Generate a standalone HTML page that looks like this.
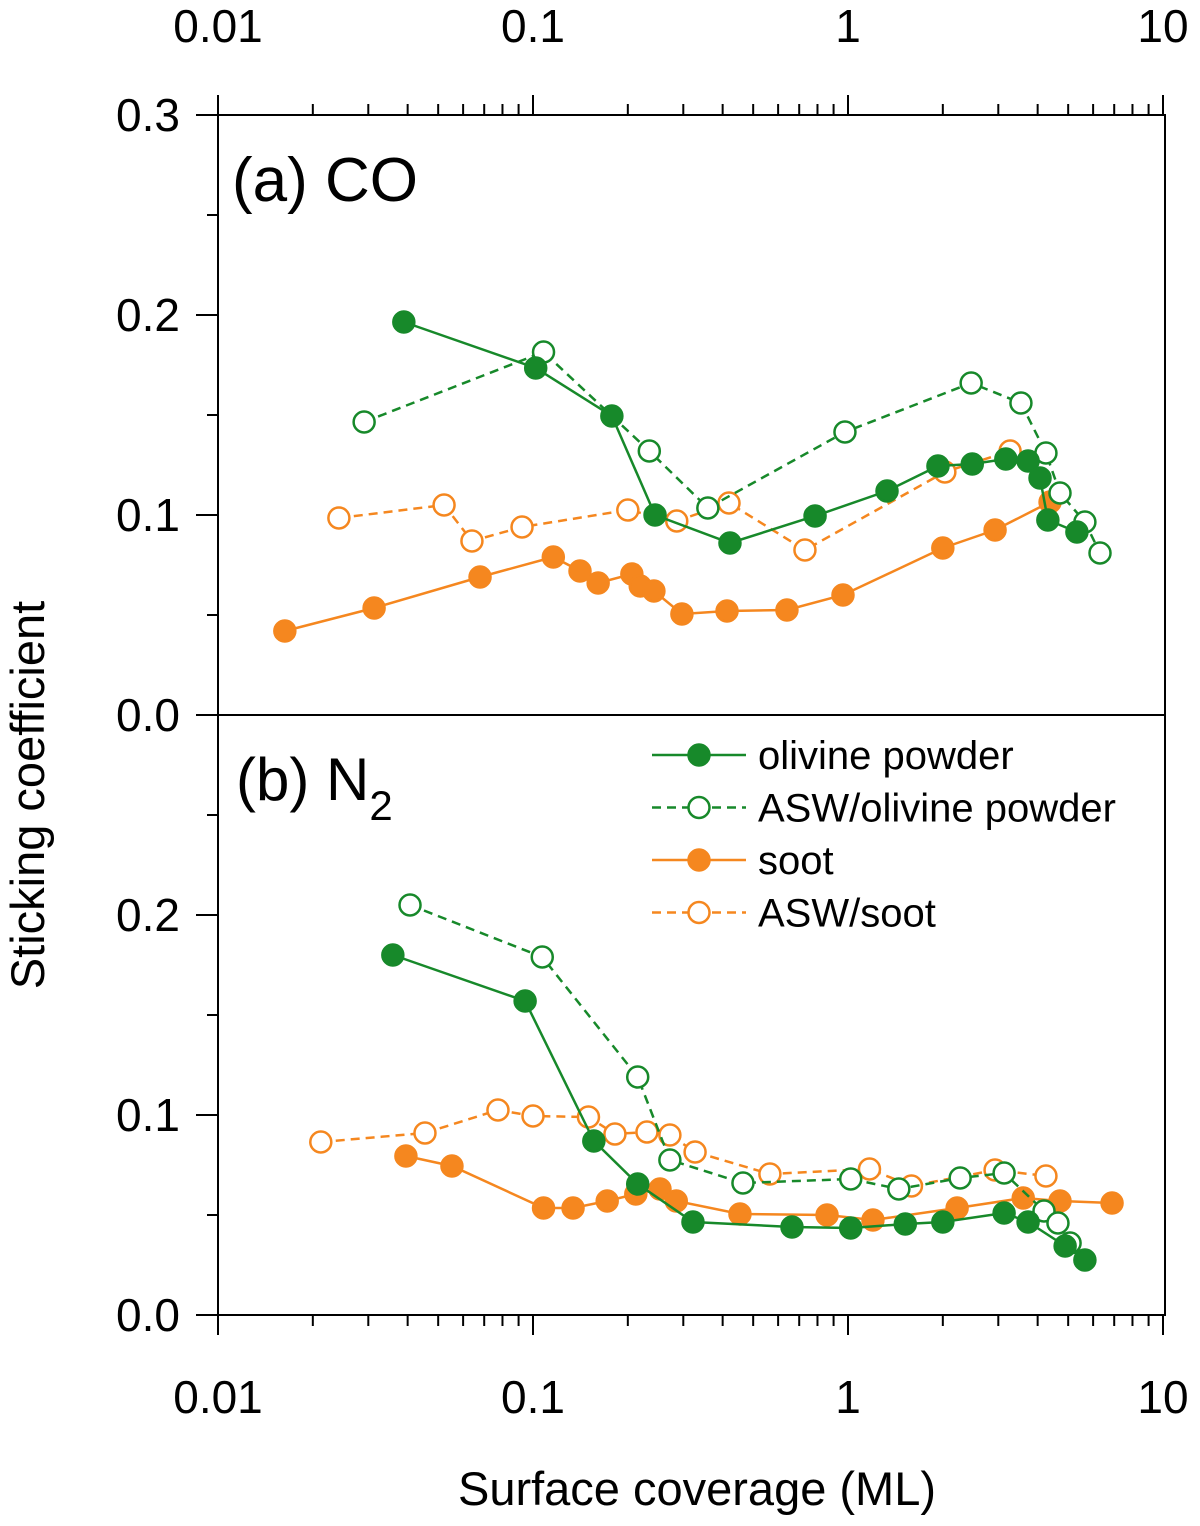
<!DOCTYPE html>
<html><head><meta charset="utf-8"><style>
body{margin:0;background:#fff}
svg text{font-family:"Liberation Sans",sans-serif;fill:#000}
</style></head><body>
<svg id="chart" width="1200" height="1521">
<g id="axes"></g><g id="marks"></g>
<text x="232" y="201" font-size="62">(a) CO</text>
<text x="236" y="800" font-size="60">(b) N<tspan font-size="42" dy="20">2</tspan></text>
<text x="697" y="1505" font-size="47" text-anchor="middle">Surface coverage (ML)</text>
<text transform="translate(44,795) rotate(-90)" font-size="47" text-anchor="middle">Sticking coefficient</text>
<g id="legend"></g>
</svg>
<script>
// data
const aOlivX=[0.0389,0.102,0.178,0.244,0.422,0.786,1.33,1.93,2.48,3.17,3.73,4.07,4.31,5.33];
const aOlivY=[0.1965,0.1735,0.1495,0.100,0.086,0.0995,0.112,0.1245,0.1255,0.128,0.127,0.1185,0.0975,0.0915];
const aAswOlivX=[0.0291,0.108,0.234,0.359,0.978,2.46,3.54,4.25,4.71,5.65,6.31];
const aAswOlivY=[0.1465,0.1815,0.132,0.1035,0.1415,0.166,0.156,0.131,0.111,0.0965,0.081];
const aSootX=[0.0163,0.0313,0.0679,0.116,0.141,0.161,0.206,0.219,0.242,0.297,0.413,0.640,0.964,2.00,2.93,4.38];
const aSootY=[0.042,0.0535,0.069,0.079,0.072,0.066,0.0705,0.0645,0.062,0.0505,0.052,0.0525,0.060,0.0835,0.0925,0.1065];
const aAswSootX=[0.0242,0.0522,0.064,0.0923,0.2,0.286,0.419,0.730,2.03,3.27];
const aAswSootY=[0.0985,0.105,0.087,0.094,0.1025,0.097,0.106,0.0825,0.1215,0.132];
const bOlivX=[0.0359,0.0944,0.156,0.215,0.322,0.664,1.02,1.52,2.00,3.13,3.73,4.89,5.65];
const bOlivY=[0.18,0.157,0.087,0.0655,0.0465,0.044,0.0435,0.0455,0.0465,0.051,0.0465,0.0345,0.0275];
const bAswOlivX=[0.0407,0.107,0.215,0.272,0.464,1.02,1.45,2.27,3.13,4.19,4.64,5.07];
const bAswOlivY=[0.205,0.179,0.119,0.0775,0.066,0.068,0.063,0.0685,0.071,0.052,0.046,0.036];
const bSootX=[0.0395,0.0553,0.108,0.134,0.172,0.212,0.253,0.285,0.454,0.858,1.20,2.22,3.6,4.71,6.89];
const bSootY=[0.0795,0.0745,0.0535,0.0535,0.057,0.0605,0.063,0.057,0.0505,0.05,0.0475,0.0535,0.0585,0.057,0.056];
const bAswSootX=[0.0212,0.0454,0.0774,0.1,0.150,0.182,0.230,0.272,0.327,0.565,1.17,1.59,2.93,4.25];
const bAswSootY=[0.0865,0.091,0.1025,0.0995,0.099,0.0905,0.0915,0.09,0.0815,0.0705,0.073,0.0645,0.0725,0.0695];
const xTickLabels=["0.01","0.1","1","10"];
const yTickLabels=["0.0","0.1","0.2","0.3"];

const NS="http://www.w3.org/2000/svg";
const L=218,R=1165,T=115,M=715,B=1315;
const GREEN="#17892a",ORANGE="#f5871f";
function sx(v){return L+(Math.log10(v)+2)*315;}
function syA(v){return M-v*2000;}
function syB(v){return B-v*2000;}
function el(tag,attrs,parent){const e=document.createElementNS(NS,tag);for(const k in attrs)e.setAttribute(k,attrs[k]);parent.appendChild(e);return e;}
const axes=document.getElementById('axes'),marks=document.getElementById('marks'),leg=document.getElementById('legend');
let r=el('rect',{x:L,y:T,width:R-L,height:B-T,fill:'none',stroke:'#000','stroke-width':2},axes);


let mid=el('line',{x1:L,x2:R,y1:M,y2:M,stroke:'#000','stroke-width':2},axes);


for(let d=0;d<4;d++){
  for(let m=1;m<=9;m++){
    if(d===3&&m>1)break;
    const v=Math.pow(10,d-2)*m,x=sx(v),len=m===1?20:11;
    el('line',{x1:x,x2:x,y1:B,y2:B+len,stroke:'#000','stroke-width':2},axes);
    el('line',{x1:x,x2:x,y1:T,y2:T-len,stroke:'#000','stroke-width':2},axes);
  }
}
xTickLabels.forEach((s,i)=>{
  const x=sx(Math.pow(10,i-2));
  const t1=el('text',{x:x,y:1413,'font-size':46,'text-anchor':'middle'},axes);t1.textContent=s;
  
  
  const t2=el('text',{x:x,y:42,'font-size':46,'text-anchor':'middle'},axes);t2.textContent=s;
  
  
});
[syA,syB].forEach((f,pi)=>{
  for(let k=0;k<=6;k++){
    const v=k*0.05,y=f(v),len=k%2===0?22:11;
    el('line',{x1:L-len,x2:L,y1:y,y2:y,stroke:'#000','stroke-width':2},axes);
  }
  yTickLabels.forEach((s,i)=>{
    if(pi===1&&i===3)return;
    const t=el('text',{x:180,y:f(i*0.1)+16,'font-size':46,'text-anchor':'end'},axes);t.textContent=s;
    
    
  });
});
function series(xs,ys,fy,color,filled,dash,name){
  const g=el('g',{},marks);
  
  
  const pts=xs.map((x,i)=>sx(x)+','+fy(ys[i])).join(' ');
  el('polyline',{points:pts,fill:'none',stroke:color,'stroke-width':2.5,'stroke-dasharray':dash?'9 6':'none'},g);
  xs.forEach((x,i)=>{
    const c=el('circle',{cx:sx(x),cy:fy(ys[i]),r:10.5,fill:filled?color:'#fff',stroke:color,'stroke-width':2.5},g);
    
    
  });
}
series(aAswSootX,aAswSootY,syA,ORANGE,false,true,'co-asw-soot-series');
series(aSootX,aSootY,syA,ORANGE,true,false,'co-soot-series');
series(aAswOlivX,aAswOlivY,syA,GREEN,false,true,'co-asw-olivine-series');
series(aOlivX,aOlivY,syA,GREEN,true,false,'co-olivine-series');
series(bAswSootX,bAswSootY,syB,ORANGE,false,true,'n2-asw-soot-series');
series(bSootX,bSootY,syB,ORANGE,true,false,'n2-soot-series');
series(bAswOlivX,bAswOlivY,syB,GREEN,false,true,'n2-asw-olivine-series');
series(bOlivX,bOlivY,syB,GREEN,true,false,'n2-olivine-series');
const legItems=[["olivine powder",GREEN,true,false],["ASW/olivine powder",GREEN,false,true],["soot",ORANGE,true,false],["ASW/soot",ORANGE,false,true]];
legItems.forEach((it,i)=>{
  const y=755+i*52.5;
  const g=el('g',{},leg);
  
  
  el('line',{x1:652,x2:746,y1:y,y2:y,stroke:it[1],'stroke-width':2.5,'stroke-dasharray':it[3]?'9 6':'none'},g);
  el('circle',{cx:699,cy:y,r:10.5,fill:it[2]?it[1]:'#fff',stroke:it[1],'stroke-width':2.5},g);
  const t=el('text',{x:758,y:y+14,'font-size':40},g);t.textContent=it[0];
});
</script>
</body></html>
